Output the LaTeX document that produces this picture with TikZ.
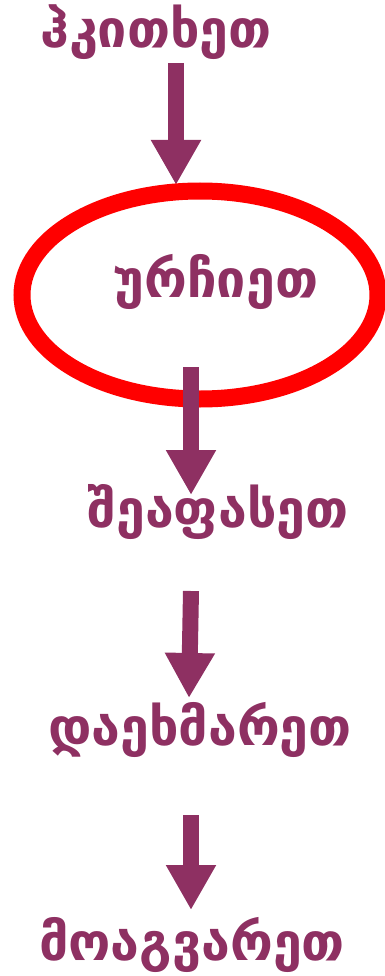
\documentclass[tikz,border=0pt]{standalone}
\usepackage{fontspec}
\newfontfamily\geofont{DejaVu Sans}
\usetikzlibrary{arrows.meta,shapes.geometric}
\definecolor{plum}{RGB}{142,48,98}

\begin{document}
\begin{tikzpicture}
[x=1pt,y=-1pt,
word/.style={text=plum,font=\geofont\bfseries\fontsize{52}{56}\selectfont,inner sep=0pt,anchor=base},
fat/.style={draw=plum,line width=16pt,-{Triangle[width=47pt,length=45pt]}},
ring/.style={ellipse,draw=red,line width=17pt,minimum width=356pt,minimum height=208pt}]
\useasboundingbox (0,0) rectangle (385,976);

\node[word] (ask) at (156,48) {ჰკითხეთ};
\node[word] (advise) at (216,297) {ურჩიეთ};
\node[word] (rate) at (218,527) {შეაფასეთ};
\node[word] (help) at (200,745) {დაეხმარეთ};
\node[word] (solve) at (192,960) {მოაგვარეთ};

\coordinate (a1) at (176,63);
\coordinate (b1) at (176,185);
\coordinate (a2) at (191,367);
\coordinate (b2) at (191,495);
\coordinate (a3) at (191,591);
\coordinate (b3) at (189,698);
\coordinate (a4) at (191,815);
\coordinate (b4) at (191,910);

\draw [fat] (a1) -- (b1);
\node[ring] (oval) at (200,295) {};
\draw [fat] (a2) -- (b2);
\draw [fat] (a3) -- (b3);
\draw [fat] (a4) -- (b4);
\end{tikzpicture}
\end{document}
